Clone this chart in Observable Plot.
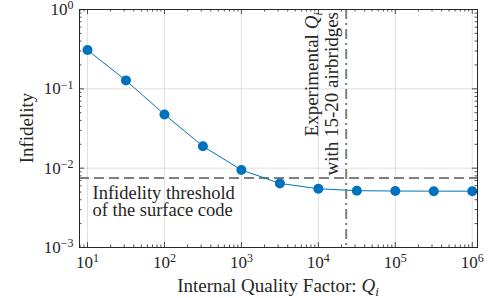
<!DOCTYPE html>
<html>
<head>
<meta charset="utf-8">
<script src="https://cdn.jsdelivr.net/npm/d3@7"></script>
<script src="https://cdn.jsdelivr.net/npm/@observablehq/plot@0.6"></script>
<style>
  html, body { margin: 0; padding: 0; background: #fff; }
  #chart svg { display: block; }
</style>
</head>
<body>
<div id="chart"></div>
<script>
// Simulated infidelity versus internal quality factor of the resonator
const qualityFactor = [10, 31.6, 100, 316, 1000, 3162, 10000, 31623, 100000, 316228, 1000000];
const infidelity    = [0.308, 0.1277, 0.0475, 0.0189, 0.0095, 0.00643, 0.0055, 0.0052, 0.00515, 0.00513, 0.00513];

// Reference lines
const surfaceCodeThreshold = [0.0075];
const experimentalQi = [23000];

// Axis ticks (decades and their minor subdivisions)
const xMajorTicks = [1e1, 1e2, 1e3, 1e4, 1e5, 1e6];
const xMinorTicks = [8, 9, 20, 30, 40, 50, 60, 70, 80, 90, 200, 300, 400, 500, 600, 700, 800, 900,
  2e3, 3e3, 4e3, 5e3, 6e3, 7e3, 8e3, 9e3, 2e4, 3e4, 4e4, 5e4, 6e4, 7e4, 8e4, 9e4,
  2e5, 3e5, 4e5, 5e5, 6e5, 7e5, 8e5, 9e5];
const yMajorTicks = [1e-3, 1e-2, 1e-1, 1];
const yMinorTicks = [2e-3, 3e-3, 4e-3, 5e-3, 6e-3, 7e-3, 8e-3, 9e-3,
  2e-2, 3e-2, 4e-2, 5e-2, 6e-2, 7e-2, 8e-2, 9e-2,
  0.2, 0.3, 0.4, 0.5, 0.6, 0.7, 0.8, 0.9];

// Text
const xTitle = ["Internal Quality Factor: ", "Q", "i"];
const yTitle = "Infidelity";
const thresholdLabel = ["Infidelity threshold", "of the surface code"];
const experimentLabel = [["Experimental ", "Q", "i"], ["with 15-20 airbridges"]];

const data = qualityFactor.map((q, i) => ({q, f: infidelity[i]}));

const W = 497, H = 298;
const mT = 9, mB = 51, mL = 79, mR = 20;
const innerW = W - mL - mR, innerH = H - mT - mB;
const ink = "#262626";
const blue = "#0072BD";
const gray = "#7f7f7f";
const font = "'Liberation Serif', 'Times New Roman', serif";

const ticksX = (values, len) => [
  Plot.tickX(values, {x: d => d, insetBottom: innerH - len, stroke: ink, strokeWidth: 0.8}),
  Plot.tickX(values, {x: d => d, insetTop: innerH - len, stroke: ink, strokeWidth: 0.8})
];
const ticksY = (values, len) => [
  Plot.tickY(values, {y: d => d, insetRight: innerW - len, stroke: ink, strokeWidth: 0.8}),
  Plot.tickY(values, {y: d => d, insetLeft: innerW - len, stroke: ink, strokeWidth: 0.8})
];
const expFormat = d => {
  const e = Math.round(Math.log10(d));
  return e < 0 ? "\u2212" + (-e) : String(e);
};

const chart = Plot.plot({
  width: W,
  height: H,
  marginTop: mT,
  marginBottom: mB,
  marginLeft: mL,
  marginRight: mR,
  style: {fontFamily: font, fontSize: "16px", color: ink, background: "#fff"},
  x: {type: "log", domain: [7.87, 1.17e6], axis: null},
  y: {type: "log", domain: [1e-3, 1], axis: null},
  marks: [
    Plot.gridX(xMajorTicks, {stroke: "#000", strokeOpacity: 0.12}),
    Plot.gridY(yMajorTicks, {stroke: "#000", strokeOpacity: 0.12}),
    Plot.ruleY(surfaceCodeThreshold, {stroke: gray, strokeWidth: 2, strokeDasharray: "10,5"}),
    Plot.ruleX(experimentalQi, {stroke: gray, strokeWidth: 2, strokeDasharray: "10,4,2,4"}),
    Plot.line(data, {x: "q", y: "f", stroke: blue, strokeWidth: 1}),
    Plot.dot(data, {x: "q", y: "f", r: 5, fill: blue, stroke: "none"}),
    ...ticksX(xMajorTicks, 5),
    ...ticksX(xMinorTicks, 2.5),
    ...ticksY(yMajorTicks, 5),
    ...ticksY(yMinorTicks, 2.5),
    Plot.frame({stroke: ink, strokeWidth: 1}),
    Plot.axisX(xMajorTicks, {anchor: "bottom", tickSize: 0, tickPadding: 8, tickFormat: expFormat, label: null, fontSize: 17, fill: ink}),
    Plot.axisY(yMajorTicks, {anchor: "left", tickSize: 0, tickPadding: 6, tickFormat: expFormat, label: null, fontSize: 17, fill: ink})
  ]
});
document.getElementById("chart").append(chart);

const svg = d3.select(chart);

// Turn exponent tick labels into 10 with a superscript
svg.selectAll('g[aria-label="x-axis tick label"] text, g[aria-label="y-axis tick label"] text').each(function() {
  const t = d3.select(this);
  const e = t.text();
  t.text(null);
  t.append("tspan").text("10");
  t.append("tspan").attr("font-size", 12).attr("dy", -5.5).text(e);
});

const xs = chart.scale("x"), ys = chart.scale("y");
const g = svg.append("g").attr("font-family", font).attr("fill", ink).attr("text-anchor", "start");

// Axis titles
const xt = g.append("text")
  .attr("x", mL + innerW / 2).attr("y", 292)
  .attr("text-anchor", "middle").attr("font-size", 19);
xt.append("tspan").text(xTitle[0]);
xt.append("tspan").attr("font-style", "italic").text(xTitle[1]);
xt.append("tspan").attr("font-style", "italic").attr("font-size", 13).attr("dy", 4).text(xTitle[2]);

g.append("text")
  .attr("transform", `translate(33,${mT + innerH / 2}) rotate(-90)`)
  .attr("text-anchor", "middle").attr("font-size", 19)
  .text(yTitle);

// Threshold annotation below the dashed line
const ty = ys.apply(surfaceCodeThreshold[0]);
thresholdLabel.forEach((line, i) => {
  g.append("text")
    .attr("x", mL + 13.5).attr("y", ty + 21 + i * 17.5)
    .attr("text-anchor", "start")
    .attr("font-size", 18.5)
    .text(line);
});

// Experimental Q_i annotation alongside the dash-dot line
const vx = xs.apply(experimentalQi[0]);
experimentLabel.forEach((parts, i) => {
  const t = g.append("text")
    .attr("transform", `translate(${vx - 28 + i * 20},${mT + 3}) rotate(-90)`)
    .attr("text-anchor", "end").attr("font-size", 19);
  t.append("tspan").text(parts[0]);
  if (parts.length > 1) {
    t.append("tspan").attr("font-style", "italic").text(parts[1]);
    t.append("tspan").attr("font-style", "italic").attr("font-size", 13).attr("dy", 4).text(parts[2]);
  }
});
</script>
</body>
</html>
